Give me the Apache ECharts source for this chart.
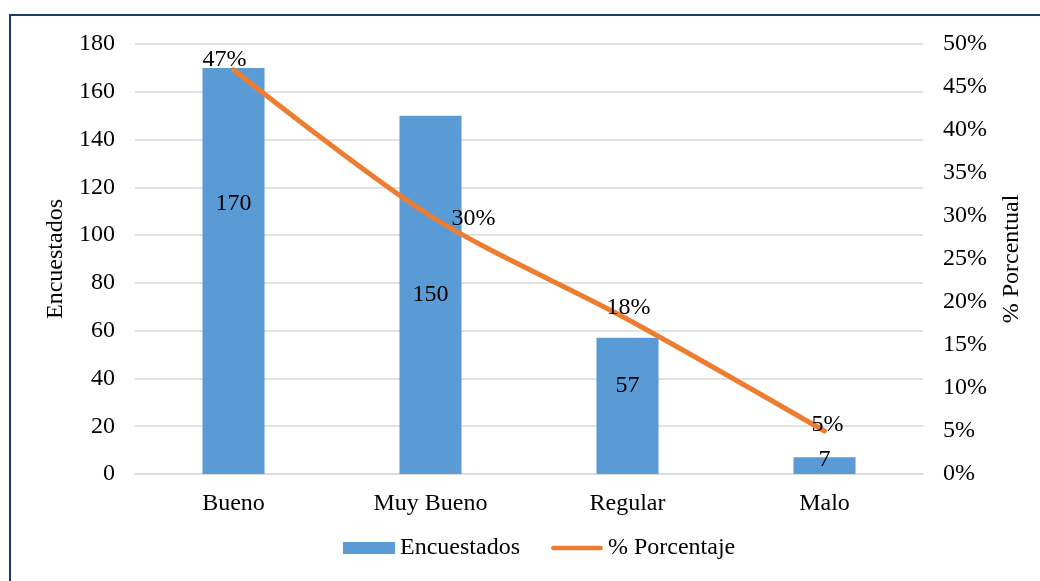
<!DOCTYPE html>
<html>
<head>
<meta charset="utf-8">
<script src="https://cdn.jsdelivr.net/npm/echarts@6/dist/echarts.min.js"></script>
<style>
html,body{margin:0;padding:0;background:#fff;}
#chart{width:1040px;height:581px;}
</style>
</head>
<body>
<div id="chart"></div>
<script>
const categories = ['Bueno', 'Muy Bueno', 'Regular', 'Malo'];
const encuestados = [170, 150, 57, 7];
const porcentaje = [47, 30, 18, 5];
const leftTicks = { min: 0, max: 180, interval: 20 };
const rightTicks = { min: 0, max: 50, interval: 5 };

// label placement tweaks (style only)
const barLabelOffsets = [[0, -67], [0, 0], [0, -20], [0, -6]];
const lineLabelOffsets = [[-9, -10], [43, 3], [1, -11], [3, -6]];

const FONT = 'Liberation Serif';
const FS = 24;
const LINE_ICON = 'path://M2.5,0 H52.5 A2.5,2.5 0 0 1 52.5,5 H2.5 A2.5,2.5 0 0 1 2.5,0 Z';

const chart = echarts.init(document.getElementById('chart'));
chart.setOption({
  animation: false,
  textStyle: { fontFamily: FONT, color: '#000' },
  graphic: [{
    type: 'rect',
    shape: { x: 10, y: 15, width: 1100, height: 700 },
    style: { fill: 'none', stroke: '#1F3A70', lineWidth: 2 },
    silent: true
  }],
  grid: { left: 135, right: 117, top: 44, bottom: 107 },
  legend: {
    bottom: 16,
    left: 338,
    itemWidth: 52,
    itemHeight: 12,
    itemGap: 31,
    symbolKeepAspect: true,
    textStyle: { fontFamily: FONT, fontSize: FS, color: '#000' },
    data: [
      { name: 'Encuestados', icon: 'rect' },
      { name: '% Porcentaje', icon: LINE_ICON }
    ]
  },
  xAxis: {
    type: 'category',
    data: categories,
    axisLine: { lineStyle: { color: '#d9d9d9', width: 1.5 } },
    axisTick: { show: false },
    axisLabel: { fontFamily: FONT, fontSize: FS, color: '#000', margin: 18 }
  },
  yAxis: [{
    type: 'value',
    min: leftTicks.min, max: leftTicks.max, interval: leftTicks.interval,
    name: 'Encuestados',
    nameLocation: 'middle',
    nameRotate: 90,
    nameGap: 67,
    nameMoveOverlap: false,
    nameTextStyle: { fontFamily: FONT, fontSize: FS, color: '#000' },
    axisLabel: { fontFamily: FONT, fontSize: FS, color: '#000', margin: 20 },
    splitLine: { lineStyle: { color: '#d9d9d9', width: 1.5 } },
    axisLine: { show: false },
    axisTick: { show: false }
  }, {
    type: 'value',
    position: 'right',
    min: rightTicks.min, max: rightTicks.max, interval: rightTicks.interval,
    name: '% Porcentual',
    nameLocation: 'middle',
    nameRotate: 90,
    nameGap: 77,
    nameTextStyle: { fontFamily: FONT, fontSize: FS, color: '#000' },
    axisLabel: { fontFamily: FONT, fontSize: FS, color: '#000', margin: 20, formatter: '{value}%' },
    splitLine: { show: false },
    axisLine: { show: false },
    axisTick: { show: false }
  }],
  series: [{
    name: 'Encuestados',
    type: 'bar',
    yAxisIndex: 0,
    barWidth: '31.5%',
    itemStyle: { color: '#5B9BD5' },
    label: { show: true, position: 'inside', fontFamily: FONT, fontSize: FS, color: '#000' },
    data: encuestados.map((v, i) => ({ value: v, label: { offset: barLabelOffsets[i] } }))
  }, {
    name: '% Porcentaje',
    type: 'line',
    yAxisIndex: 1,
    smooth: 0.3,
    symbol: 'circle',
    symbolSize: 1,
    showSymbol: true,
    lineStyle: { color: '#ED7D31', width: 5, cap: 'round' },
    itemStyle: { color: '#ED7D31' },
    label: { show: true, position: 'inside', fontFamily: FONT, fontSize: FS, color: '#000', formatter: '{c}%' },
    data: porcentaje.map((v, i) => ({ value: v, label: { offset: lineLabelOffsets[i] } }))
  }]
});
</script>
</body>
</html>
